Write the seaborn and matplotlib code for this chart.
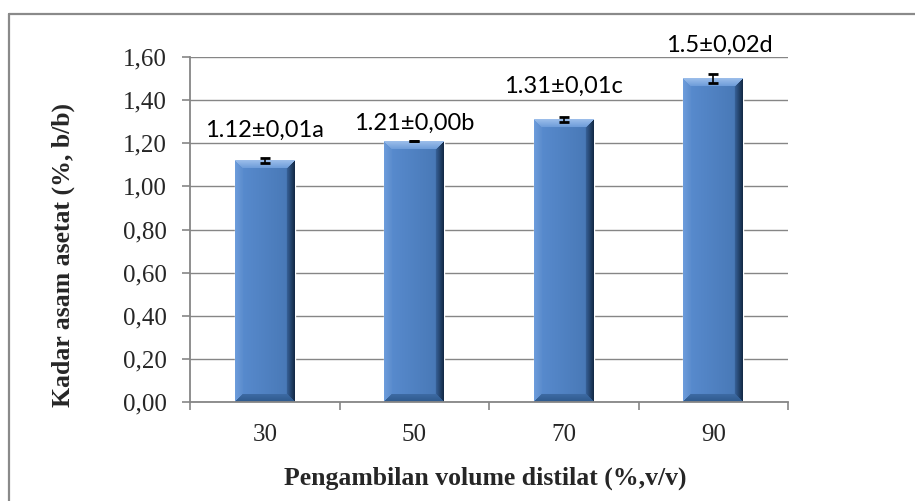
import numpy as np
import pandas as pd
import matplotlib
matplotlib.use("Agg")
import matplotlib.pyplot as plt
from matplotlib.lines import Line2D
from matplotlib.ticker import FuncFormatter, FixedLocator
import seaborn as sns

# data
volume = ['30', '50', '70', '90']
kadar = [1.12, 1.21, 1.31, 1.50]
sd = [0.01, 0.00, 0.01, 0.02]
labels = ['1.12±0,01a', '1.21±0,00b', '1.31±0,01c', '1.5±0,02d']

sns.set_style("white")
plt.rcParams['font.family'] = ['Liberation Serif', 'DejaVu Serif']

df = pd.DataFrame({'volume': volume, 'kadar': kadar})

fig = plt.figure(figsize=(9.15, 5.01), dpi=100)
ax = fig.add_axes([190/915, 1-402/501, (788-190)/915, (402-57)/501])

sns.barplot(data=df, x='volume', y='kadar', width=0.4, color='#4F81BD',
            errorbar=None, ax=ax, zorder=2)

# bevel look for each bar
def hexrgb(h):
    h = h.lstrip('#')
    return np.array([int(h[i:i+2], 16) for i in (0, 2, 4)]) / 255.0

face_l = hexrgb('#5A8DD1')
face_r = hexrgb('#4676B3')
top_c = (hexrgb('#9BBDEA'), hexrgb('#6A9AD8'))
bot_c = (hexrgb('#2F5A8E'), hexrgb('#3F6CA6'))
left_c = (hexrgb('#6C9CDB'), hexrgb('#5A8BCC'))
right_c = (hexrgb('#142B48'), hexrgb('#3A659E'))

W = 59
b = 8
for p in ax.patches:
    x0, y0 = p.get_x(), p.get_y()
    w, h = p.get_width(), p.get_height()
    H = max(int(round(h / 1.6 * 345)), 2 * b + 2)
    ii, jj = np.mgrid[0:H, 0:W]
    d = np.stack([ii, H - 1 - ii, jj, W - 1 - jj])
    side = d.argmin(0)
    dmin = d.min(0)
    t = (jj / (W - 1))[..., None]
    img = face_l * (1 - t) + face_r * t
    for k, (c0, c1) in enumerate([top_c, bot_c, left_c, right_c]):
        m = (side == k) & (dmin < b)
        tt = (dmin[m] / b)[:, None]
        img[m] = c0 * (1 - tt) + c1 * tt
    ax.imshow(img, extent=[x0, x0 + w, y0, y0 + h], origin='upper',
              aspect='auto', interpolation='bilinear', zorder=2.5)

xpos = np.arange(len(volume))
ax.errorbar(xpos, kadar, yerr=sd, fmt='none', ecolor='black',
            elinewidth=1.2, capsize=3.6, capthick=2, zorder=4)

# value labels
label_y = [1.229, 1.261, 1.433, 1.623]
label_dx = [0.0, 0.0, 0.0, 0.04]
for i, txt in enumerate(labels):
    ax.text(xpos[i] + label_dx[i], label_y[i], txt, ha='center', va='baseline',
            fontsize=17, family=['Lato', 'DejaVu Sans'], color='black',
            zorder=5, clip_on=False)

ax.set_xlim(-0.5, 3.5)
ax.set_ylim(0, 1.6)
ax.set_yticks(np.arange(0, 1.61, 0.2))
ax.yaxis.set_major_formatter(FuncFormatter(lambda v, pos: f"{v:.2f}".replace('.', ',')))
ax.xaxis.set_minor_locator(FixedLocator([-0.5, 0.5, 1.5, 2.5, 3.5]))

gray = '#868686'
ax.grid(axis='y', color=gray, linewidth=1.0, zorder=0)
ax.set_axisbelow(True)
for s in ['top', 'right']:
    ax.spines[s].set_visible(False)
for s in ['left', 'bottom']:
    ax.spines[s].set_color(gray)
    ax.spines[s].set_linewidth(1.3)

ax.tick_params(axis='y', which='major', length=6, width=1.2, color=gray,
               direction='out', left=True, labelsize=18, pad=11)
ax.tick_params(axis='x', which='major', length=0, labelsize=18, pad=16)
ax.tick_params(axis='x', which='minor', length=6, width=1.2, color=gray,
               direction='out', bottom=True)

ax.set_xlabel('')
ax.set_ylabel('')
fig.text(485/915, 1-485/501, 'Pengambilan volume distilat (%,v/v)',
         ha='center', va='baseline', fontsize=18.5, fontweight='bold')
fig.text(63/915, 1-255/501, 'Kadar asam asetat (%, b/b)', rotation=90,
         ha='center', va='center', fontsize=18.5, fontweight='bold')

# outer chart border (open on right and bottom)
bx = 8.5/915
by = 1 - 13.5/501
fig.add_artist(Line2D([bx, 1.0], [by, by], transform=fig.transFigure,
                      color='#8A8A8A', linewidth=1.6))
fig.add_artist(Line2D([bx, bx], [0.0, by], transform=fig.transFigure,
                      color='#8A8A8A', linewidth=1.6))

fig.savefig('out.png', dpi=100)
